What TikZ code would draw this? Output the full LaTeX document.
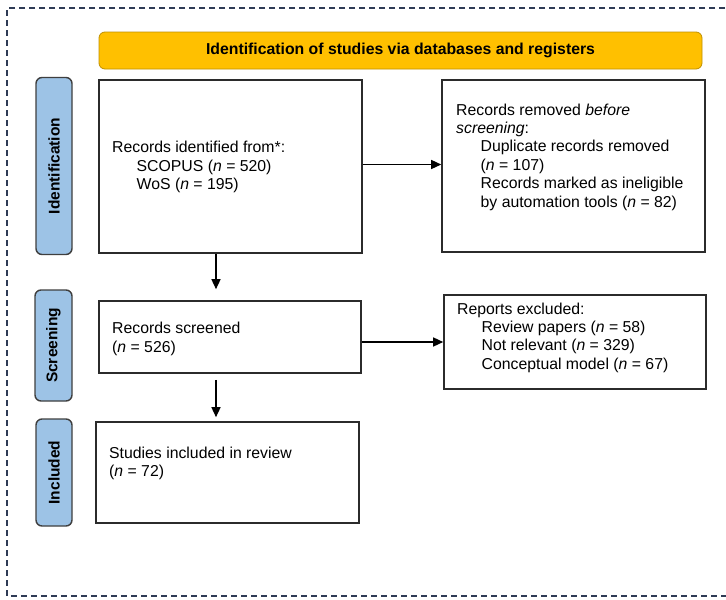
\documentclass[tikz,border=0pt]{standalone}
\usepackage{fontspec}
\setmainfont{Liberation Sans}
\usetikzlibrary{arrows.meta}
\definecolor{hdr}{HTML}{FFC000}
\definecolor{hdrline}{HTML}{C09000}
\definecolor{lbl}{HTML}{9DC3E6}
\definecolor{lblline}{HTML}{3F3F3F}
\definecolor{boxline}{HTML}{2B2B2B}
\definecolor{framecol}{HTML}{2E3B55}
\begin{document}
\begin{tikzpicture}[x=1pt,y=-1pt,
  box/.style={draw=boxline,line width=1.6pt,inner sep=0pt},
  txt/.style={anchor=north west,inner sep=0pt,align=left,font=\fontsize{15.8}{18.4}\selectfont},
  side/.style={draw=lblline,fill=lbl,line width=1.4pt,rounded corners=6pt,inner sep=0pt},
  sidetxt/.style={rotate=90,inner sep=0pt,font=\fontsize{15.5}{18}\selectfont\bfseries},
  arr/.style={line width=1.4pt,-{Triangle[length=10pt,width=9pt]}}]
\useasboundingbox (0,0) rectangle (726,600);
\fill[white] (0,0) rectangle (726,600);
% outer dashed frame
\draw[framecol,line width=1.3pt,dash pattern=on 6pt off 4pt] (735,8) -- (7,8) -- (7,596) -- (735,596);
% header
\node[draw=hdrline,fill=hdr,line width=0.8pt,rounded corners=6pt,minimum width=603pt,minimum height=37pt,inner sep=0pt,
  font=\fontsize{15.8}{18}\selectfont\bfseries] (hdr) at (400.5,50.5) {Identification of studies via databases and registers};
% side labels
\node[side,minimum width=36pt,minimum height=177pt] (lid) at (54,166) {};
\node[sidetxt] (lidt) at (lid.center) {Identification};
\node[side,minimum width=37pt,minimum height=111pt] (lsc) at (53.5,345.5) {};
\node[sidetxt] (lsct) at (lsc.center) {Screening};
\node[side,minimum width=36pt,minimum height=107pt] (lin) at (54,472.5) {};
\node[sidetxt] (lint) at (lin.center) {Included};
% boxes
\node[box,minimum width=263pt,minimum height=173pt] (b1) at (230.5,166.5) {};
\node[box,minimum width=263pt,minimum height=172pt] (b2) at (573.5,166) {};
\node[box,minimum width=262pt,minimum height=72pt] (sc) at (230,337) {};
\node[box,minimum width=262pt,minimum height=94pt] (rp) at (575,342) {};
\node[box,minimum width=263pt,minimum height=101pt] (st) at (227.5,472.5) {};
% texts
\node[txt] (t1) at (112,141) {Records identified from*:\\\hspace*{24.5pt}SCOPUS (\textit{n} = 520)\\\hspace*{24.5pt}WoS (\textit{n} = 195)};
\node[txt] (t2) at (456,103.5) {Records removed \textit{before}\\\textit{screening}:\\\hspace*{24.5pt}Duplicate records removed\\\hspace*{24.5pt}(\textit{n} = 107)\\\hspace*{24.5pt}Records marked as ineligible\\\hspace*{24.5pt}by automation tools (\textit{n} = 82)};
\node[txt] (t3) at (112,322) {Records screened\\(\textit{n} = 526)};
\node[txt] (t4) at (457,302.5) {Reports excluded:\\\hspace*{24.5pt}Review papers (\textit{n} = 58)\\\hspace*{24.5pt}Not relevant (\textit{n} = 329)\\\hspace*{24.5pt}Conceptual model (\textit{n} = 67)};
\node[txt] (t5) at (109,446.5) {Studies included in review\\(\textit{n} = 72)};
% arrows
\draw[arr] ([yshift=2pt]b1.east) -- ([yshift=2pt]b1.east -| b2.west);
\draw[arr,shorten >=11pt] ([xshift=-14.5pt]b1.south) -- ([xshift=-14pt]sc.north);
\draw[arr] (sc.east |- rp.west) -- (rp.west);
\draw[arr,shorten <=6pt,shorten >=4pt] ([xshift=-14pt]sc.south) -- ([xshift=-11.5pt]st.north);
\end{tikzpicture}
\end{document}
